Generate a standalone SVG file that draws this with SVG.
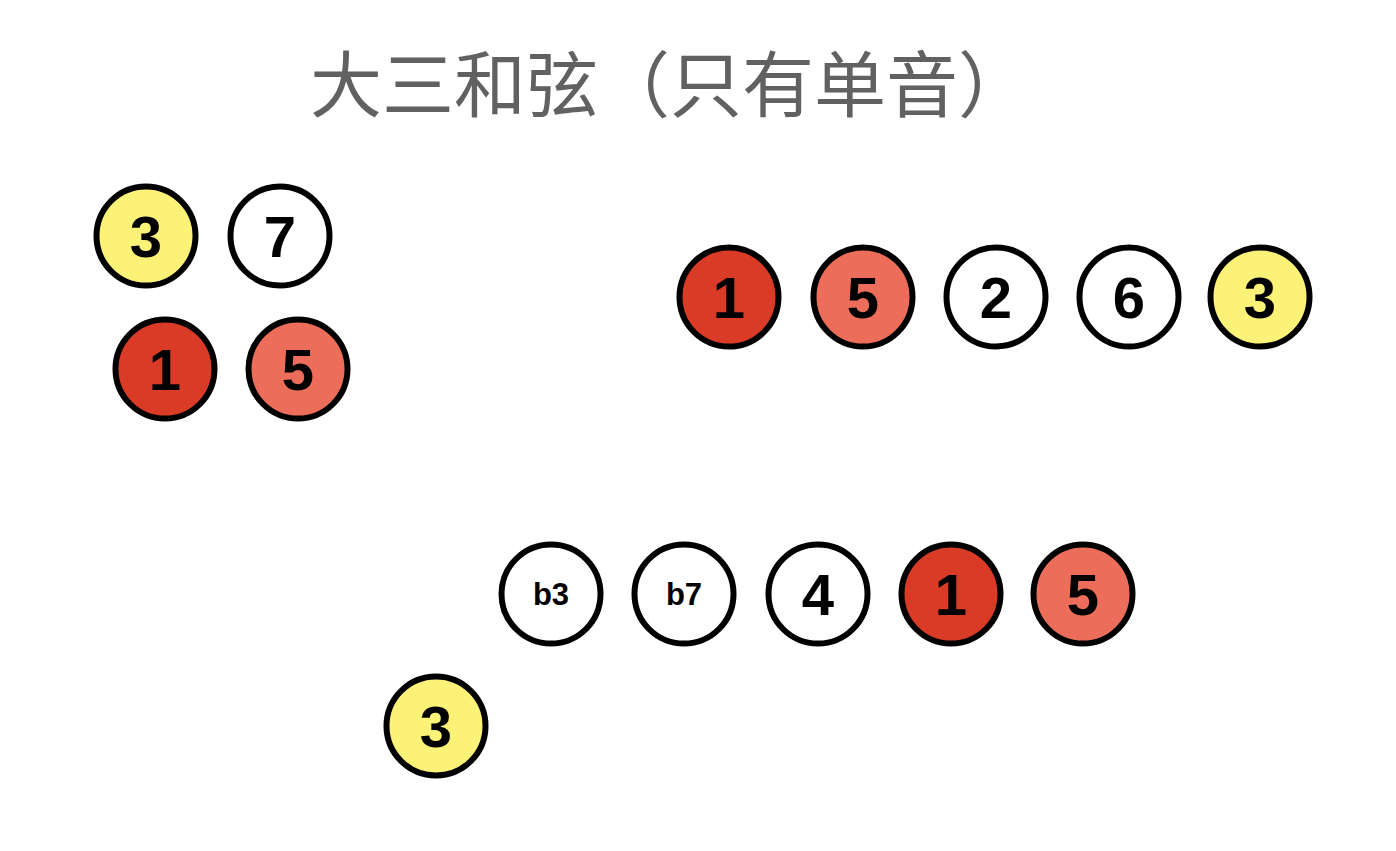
<svg xmlns="http://www.w3.org/2000/svg" width="1396" height="851" viewBox="0 0 1396 851">
<style>
.n circle{stroke:#000;stroke-width:6}
.y{fill:#fbf277}.r{fill:#d93b26}.s{fill:#ec6e5a}.w{fill:#fff}
.n text{font-family:"Liberation Sans",Arial,sans-serif;font-weight:bold;font-size:58px;fill:#000;text-anchor:middle}
.n text.sm{font-size:31px}
.title{font-family:"Noto Sans CJK SC",sans-serif;font-size:72px;fill:#616161}
</style>
<rect width="1396" height="851" fill="#fff"/>
<text class="title" x="310" y="111">大三和弦（只有单音）</text>
<g class="n" id="n_a3"><circle class="y" cx="146" cy="236" r="49.5"/><text x="146" y="257">3</text></g>
<g class="n" id="n_a7"><circle class="w" cx="280" cy="236" r="49.5"/><text x="280" y="257">7</text></g>
<g class="n" id="n_a1"><circle class="r" cx="165" cy="369" r="49.5"/><text x="165" y="390">1</text></g>
<g class="n" id="n_a5"><circle class="s" cx="298" cy="369" r="49.5"/><text x="298" y="390">5</text></g>
<g class="n" id="n_b1"><circle class="r" cx="729" cy="297" r="49.5"/><text x="729" y="318">1</text></g>
<g class="n" id="n_b5"><circle class="s" cx="863" cy="297" r="49.5"/><text x="863" y="318">5</text></g>
<g class="n" id="n_b2"><circle class="w" cx="996" cy="297" r="49.5"/><text x="996" y="318">2</text></g>
<g class="n" id="n_b6"><circle class="w" cx="1129" cy="297" r="49.5"/><text x="1129" y="318">6</text></g>
<g class="n" id="n_b3"><circle class="y" cx="1260" cy="297" r="49.5"/><text x="1260" y="318">3</text></g>
<g class="n" id="n_cb3"><circle class="w" cx="551" cy="594" r="49.5"/><text class="sm" x="551" y="605">b3</text></g>
<g class="n" id="n_cb7"><circle class="w" cx="684" cy="594" r="49.5"/><text class="sm" x="684" y="605">b7</text></g>
<g class="n" id="n_c4"><circle class="w" cx="818" cy="594" r="49.5"/><text x="818" y="615">4</text></g>
<g class="n" id="n_c1"><circle class="r" cx="951" cy="594" r="49.5"/><text x="951" y="615">1</text></g>
<g class="n" id="n_c5"><circle class="s" cx="1083" cy="594" r="49.5"/><text x="1083" y="615">5</text></g>
<g class="n" id="n_c3"><circle class="y" cx="436" cy="726" r="49.5"/><text x="436" y="747">3</text></g>
<g id="connectors"/>
</svg>
